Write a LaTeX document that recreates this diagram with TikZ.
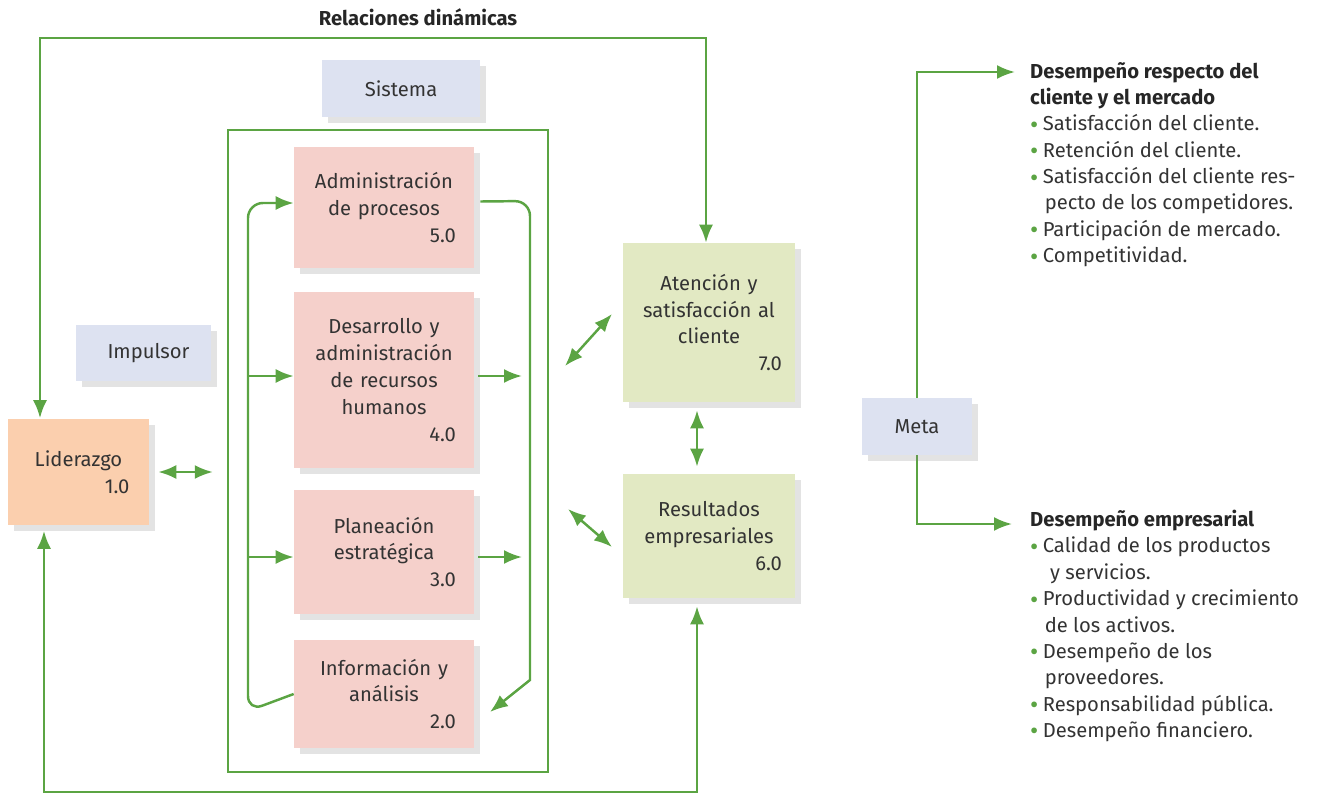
\documentclass[tikz,border=0pt]{standalone}
\usepackage{fontspec}
\setmainfont{Fira Sans}
\usetikzlibrary{arrows.meta,shadows}
\definecolor{lnk}{HTML}{5BA443}
\definecolor{txt}{HTML}{333333}
\definecolor{lila}{HTML}{DDE2F1}
\definecolor{rosa}{HTML}{F5D0CB}
\definecolor{durazno}{HTML}{FBCFAE}
\definecolor{verde}{HTML}{E2E9C3}
\newcommand\boxnum[1]{\\\hbox to \linewidth{\hfill#1}}
\newcommand\itm{\textcolor{lnk}{\raisebox{-0.12em}{\Large\textbullet}}\hspace{0.22em}}
\newcommand\cont{\hspace*{0.72em}}

\begin{document}
\begin{tikzpicture}[x=0.02cm,y=-0.02cm,
  box/.style={fill=#1, inner sep=0pt, align=center, text=txt,
    font=\fontsize{11.5pt}{15.3pt}\selectfont,
    drop shadow={shadow xshift=0.12cm, shadow yshift=-0.12cm, opacity=0.22}},
  line/.style={draw=lnk, line width=1.4pt},
  arr/.style={line, -{Latex[length=3.6mm,width=2.8mm]}},
  darr/.style={line, {Latex[length=3.6mm,width=2.8mm]}-{Latex[length=3.6mm,width=2.8mm]}},
  lst/.style={anchor=north west, align=left, text=txt,
    font=\fontsize{11.5pt}{15pt}\selectfont}]
\useasboundingbox (0,0) rectangle (1323,795);

% system frame and loops
\node[line, minimum width=6.4cm, minimum height=12.84cm] (sys) at (388,451) {};
\coordinate (tl) at (40,38);
\coordinate (tr) at (706,38);
\coordinate (bl) at (44,792);
\coordinate (br) at (697,792);

\node[font=\bfseries\fontsize{11.5pt}{14pt}\selectfont, text=black!85] (tit) at (418,17) {Relaciones dinámicas};

\node[box=lila, minimum width=3.16cm, minimum height=1.14cm] (sis) at (401,88.5) {Sistema};
\node[box=lila, minimum width=2.7cm, minimum height=1.12cm] (imp) at (143.5,353) {\hspace{0.2cm}Impulsor};
\node[box=durazno, minimum width=2.82cm, minimum height=2.14cm, text width=2.04cm] (lid) at (78.5,472) {Liderazgo\boxnum{1.0}};

\node[box=rosa, minimum width=3.6cm, minimum height=2.42cm, text width=2.88cm] (adm) at (384,207.5) {Administración\\de procesos\boxnum{5.0}};
\node[box=rosa, minimum width=3.6cm, minimum height=3.52cm, text width=2.88cm] (des) at (384,380) {Desarrollo y\\administración\\de recursos\\humanos\boxnum{4.0}};
\node[box=rosa, minimum width=3.6cm, minimum height=2.48cm, text width=2.88cm] (pla) at (384,552) {Planeación\\estratégica\boxnum{3.0}};
\node[box=rosa, minimum width=3.6cm, minimum height=2.16cm, text width=2.88cm] (inf) at (384,694) {Información y\\análisis\boxnum{2.0}};

\node[box=verde, minimum width=3.44cm, minimum height=3.18cm, text width=2.92cm] (ate) at (709,322.5) {Atención y\\satisfacción al\\cliente\boxnum{7.0}};
\node[box=verde, minimum width=3.44cm, minimum height=2.48cm, text width=2.92cm] (res) at (709,536) {Resultados\\empresariales\boxnum{6.0}};

\draw[darr] (lid.north -| tl) -- (tl) -- (tr) -- (ate.north -| tr);
\draw[darr] (lid.south -| bl) ++(0,5) -- (bl) -- (br) -- ([yshift=-0.16cm]res.south -| br);
\draw[darr, shorten <=0.18cm, shorten >=0.28cm] (lid.east) -- (lid.east -| sys.west);

% inner loops
\draw[arr, rounded corners=0.3cm] (inf.west) -- (248,711) -- (248,203) [sharp corners] -- (adm.west |- 248,203);
\draw[arr] (248,376) -- (des.west |- 248,376);
\draw[arr] (248,557) -- (pla.west |- 248,557);
\draw[arr, rounded corners=0.3cm] (adm.east) ++(6,-6) -- (530,201) [sharp corners] -- (530,680) -- (490,712);
\draw[arr] (des.east) ++(4,-4) -- (522,376);
\draw[arr] (pla.east) ++(4,5) -- (522,557);

\coordinate (a1) at (565,366);
\coordinate (a2) at (612,314);
\coordinate (b1) at (568,509);
\coordinate (b2) at (612,547);
\draw[darr] (a1) -- (a2);
\draw[darr] (b1) -- (b2);
\draw[darr, shorten <=0.16cm, shorten >=0.14cm] (ate.south -| br) -- (res.north -| br);

% goals
\coordinate (g1) at (1015,72);
\coordinate (g2) at (1012,524);
\draw[arr] (917,410) |- (g1);
\draw[arr] (917,440) |- (g2);
\node[box=lila, minimum width=2.2cm, minimum height=1.14cm] (meta) at (917,426.5) {Meta};

\node[lst] (cli) at (1024,56) {\textbf{\color{black!85}Desempeño respecto del}\\
\textbf{\color{black!85}cliente y el mercado}\\
\itm Satisfacción del cliente.\\
\itm Retención del cliente.\\
\itm Satisfacción del cliente res-\\
\cont pecto de los competidores.\\
\itm Participación de mercado.\\
\itm Competitividad.};

\node[lst] (emp) at (1024,504) {\textbf{\color{black!85}Desempeño empresarial}\\
\itm Calidad de los productos\\
\cont\ y servicios.\\
\itm Productividad y crecimiento\\
\cont de los activos.\\
\itm Desempeño de los\\
\cont proveedores.\\
\itm Responsabilidad pública.\\
\itm Desempeño financiero.};
\end{tikzpicture}
\end{document}
